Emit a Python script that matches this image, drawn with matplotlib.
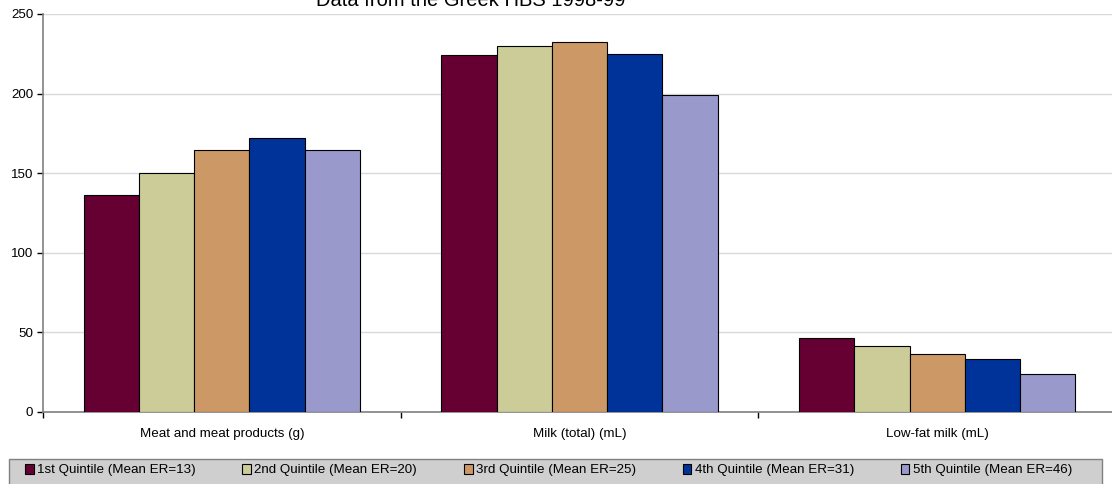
import numpy as np
import matplotlib
matplotlib.use("Agg")
import matplotlib.pyplot as plt
from matplotlib.patches import Rectangle

plt.rcParams['font.family'] = ['Liberation Sans', 'DejaVu Sans']

categories = ['Meat and meat products (g)', 'Milk (total) (mL)', 'Low-fat milk (mL)']
series = ['1st Quintile (Mean ER=13)', '2nd Quintile (Mean ER=20)',
          '3rd Quintile (Mean ER=25)', '4th Quintile (Mean ER=31)',
          '5th Quintile (Mean ER=46)']
q1 = [136, 224, 46.5]
q2 = [150, 230, 41.5]
q3 = [164.5, 232.5, 36]
q4 = [172, 225, 33.3]
q5 = [164.5, 199, 23.7]
values = [q1, q2, q3, q4, q5]
colors = ['#660033', '#CCCC99', '#CC9966', '#003399', '#9999CC']
title = 'Data from the Greek HBS 1998-99'

W, H = 1112, 484
fs = 9.6
fig = plt.figure(figsize=(W / 100, H / 100), dpi=100)
ax = fig.add_axes([43 / W, (H - 411.7) / H, (1116 - 43) / W, (411.7 - 14) / H])

x = np.arange(len(categories))
bw = 0.773 / len(series)
handles = []
for i, (vals, c) in enumerate(zip(values, colors)):
    b = ax.bar(x + (i - 2) * bw, vals, bw, color=c, edgecolor='black',
               linewidth=0.8, label=series[i], zorder=3)
    handles.append(b)

ax.set_xlim(-0.5, len(categories) - 0.5)
ax.set_ylim(0, 250)
ax.set_yticks([0, 50, 100, 150, 200, 250])
ax.yaxis.grid(True, color='#d9d9d9', linewidth=1, zorder=0)
ax.set_axisbelow(True)
for s in ['top', 'right']:
    ax.spines[s].set_visible(False)
for s in ['left', 'bottom']:
    ax.spines[s].set_color('#808080')
    ax.spines[s].set_linewidth(1.2)

ax.set_xticks(x)
ax.set_xticklabels(categories, fontsize=fs)
ax.tick_params(axis='x', length=0, pad=12)
ax.set_xticks(np.arange(len(categories) + 1) - 0.5, minor=True)
ax.tick_params(axis='x', which='minor', length=4, color='black', width=1)
ax.tick_params(axis='y', length=4, color='black', width=1, labelsize=fs, pad=3)

fig.text(471 / W, 1 - 5.7 / H, title, ha='center', va='baseline', fontsize=14.5)

# legend box
fig.patches.append(Rectangle((8.7 / W, -0.05), (1102 - 8.7) / W, (H - 459.3) / H + 0.05,
                             transform=fig.transFigure, facecolor='#cfcfcf',
                             edgecolor='#808080', linewidth=1, zorder=0))
leg = fig.legend(handles, series, loc='center left', ncol=5, frameon=False,
                 bbox_to_anchor=(25 / W, 1 - 470 / H), fontsize=fs,
                 handlelength=0.65, handleheight=0.8, handletextpad=0.25,
                 columnspacing=3.5, borderaxespad=0, borderpad=0)

fig.savefig('out.png', dpi=100)
